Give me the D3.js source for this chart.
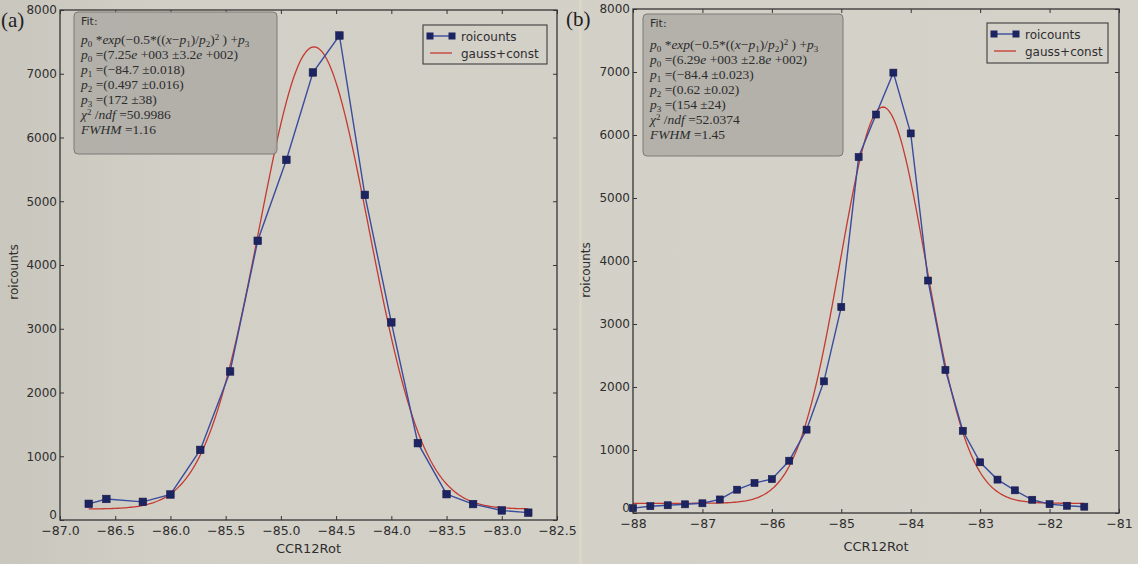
<!DOCTYPE html>
<html>
<head>
<meta charset="utf-8">
<script src="https://cdn.jsdelivr.net/npm/d3@7"></script>
<style>
  html, body { margin: 0; padding: 0; background: #d2cfc7; }
  svg { display: block; }
</style>
</head>
<body>
<svg id="fig" width="1138" height="564"></svg>
<script>
// ---- Panel (a): measured counts per CCR12Rot bin ----
const xA = [-86.74, -86.58, -86.25, -86.0, -85.73, -85.46, -85.21, -84.95, -84.71,
            -84.47, -84.24, -84.0, -83.76, -83.5, -83.26, -83.0, -82.76];
const countsA = [254, 330, 285, 400, 1100, 2330, 4380, 5650, 7020,
                 7600, 5100, 3100, 1205, 405, 250, 150, 115];
// gauss+const fit parameters p0..p3
const fitParamsA = [7250, -84.7, 0.497, 172];
const xTicksA = [-87.0, -86.5, -86.0, -85.5, -85.0, -84.5, -84.0, -83.5, -83.0, -82.5];

// ---- Panel (b) ----
const xB = [-88.0, -87.75, -87.5, -87.25, -87.0, -86.75, -86.5, -86.25, -86.0,
            -85.75, -85.5, -85.25, -85.0, -84.75, -84.5, -84.25, -84.0, -83.75,
            -83.5, -83.25, -83.0, -82.75, -82.5, -82.25, -82.0, -81.75, -81.5];
const countsB = [77, 108, 123, 138, 154, 215, 370, 477, 538,
                 830, 1323, 2090, 3270, 5650, 6325, 6990, 6025, 3690,
                 2270, 1305, 805, 530, 360, 210, 140, 115, 100];
const fitParamsB = [6290, -84.4, 0.62, 154];
const xTicksB = [-88, -87, -86, -85, -84, -83, -82, -81];

const yTicks = [0, 1000, 2000, 3000, 4000, 5000, 6000, 7000, 8000];

// Fit summary text: [text, "" | "sub" | "sup"] runs per line
const fitLinesA = [
  [["p", ""], ["0", "sub"], [" *exp(−0.5*((x−p", ""], ["1", "sub"], [")/p", ""], ["2", "sub"], [")", ""], ["2", "sup"], [" ) +p", ""], ["3", "sub"]],
  [["p", ""], ["0", "sub"], [" =(7.25e +003 ±3.2e +002)", ""]],
  [["p", ""], ["1", "sub"], [" =(−84.7 ±0.018)", ""]],
  [["p", ""], ["2", "sub"], [" =(0.497 ±0.016)", ""]],
  [["p", ""], ["3", "sub"], [" =(172 ±38)", ""]],
  [["χ", ""], ["2", "sup"], [" /ndf =50.9986", ""]],
  [["FWHM =1.16", ""]]
];
const fitLinesB = [
  [["p", ""], ["0", "sub"], [" *exp(−0.5*((x−p", ""], ["1", "sub"], [")/p", ""], ["2", "sub"], [")", ""], ["2", "sup"], [" ) +p", ""], ["3", "sub"]],
  [["p", ""], ["0", "sub"], [" =(6.29e +003 ±2.8e +002)", ""]],
  [["p", ""], ["1", "sub"], [" =(−84.4 ±0.023)", ""]],
  [["p", ""], ["2", "sub"], [" =(0.62 ±0.02)", ""]],
  [["p", ""], ["3", "sub"], [" =(154 ±24)", ""]],
  [["χ", ""], ["2", "sup"], [" /ndf =52.0374", ""]],
  [["FWHM =1.45", ""]]
];
const legendLabels = ["roicounts", "gauss+const"];
const axisTitleX = "CCR12Rot";
const axisTitleY = "roicounts";

// ---- styling ----
const C = {
  ink: "#2e2e2e",
  frame: "#353535",
  dataLine: "#3a4c9c",
  marker: "#1d2462",
  fit: "#c43a30",
  boxFill: "#b0aea7",
  boxStroke: "#7d7b75"
};
const SANS = "'DejaVu Sans', sans-serif";
const SERIF = "'Liberation Serif', 'Times New Roman', serif";

const svg = d3.select("#fig");

// paper background with a slight shading towards the left edge
const defs = svg.append("defs");
const grad = defs.append("linearGradient").attr("id", "paper").attr("x1", 0).attr("x2", 1).attr("y1", 0).attr("y2", 0);
grad.append("stop").attr("offset", 0).attr("stop-color", "#c9c6be");
grad.append("stop").attr("offset", 0.15).attr("stop-color", "#d2cfc7");
grad.append("stop").attr("offset", 1).attr("stop-color", "#d5d2ca");
svg.append("rect").attr("width", 1138).attr("height", 564).attr("fill", "url(#paper)");
// page fold between the two panels
svg.append("rect").attr("x", 579).attr("y", 0).attr("width", 3).attr("height", 564)
  .attr("fill", "#e0dcc4").attr("opacity", 0.55);

function gaussConst(p, v) {
  return p[0] * Math.exp(-0.5 * Math.pow((v - p[1]) / p[2], 2)) + p[3];
}

function writeMath(textSel, runs) {
  let shift = 0;
  runs.forEach(([str, kind]) => {
    const target = kind === "sub" ? 2.5 : kind === "sup" ? -4 : 0;
    const size = kind ? "9px" : null;
    // letters italic, digits and operators upright
    const parts = str.match(/[A-Za-zχ]+|[^A-Za-zχ]+/g) || [];
    parts.forEach((part, i) => {
      const ts = textSel.append("tspan").text(part);
      if (/[A-Za-zχ]/.test(part)) ts.attr("font-style", "italic");
      if (size) ts.attr("font-size", size);
      if (i === 0 && target !== shift) { ts.attr("dy", target - shift); shift = target; }
    });
  });
}

function drawPanel(o) {
  const g = svg.append("g");
  const x = d3.scaleLinear().domain(o.xDomain).range([o.left, o.right]);
  const y = d3.scaleLinear().domain([0, 8000]).range([o.bottom, o.top]);

  const styleAxis = size => sel => {
    sel.select(".domain").remove();
    sel.selectAll(".tick line").attr("stroke", C.frame).attr("stroke-width", 1);
    sel.selectAll("text").attr("fill", C.ink).attr("font-family", SANS).attr("font-size", size);
  };

  g.append("g").attr("transform", `translate(0,${o.bottom})`)
    .call(d3.axisBottom(x).tickValues(o.xTicks).tickFormat(o.xFmt)
      .tickSizeInner(-4).tickSizeOuter(0).tickPadding(6))
    .call(styleAxis(12.5));
  g.append("g").attr("transform", `translate(0,${o.top})`)
    .call(d3.axisTop(x).tickValues(o.xTicks).tickFormat("")
      .tickSizeInner(-4).tickSizeOuter(0))
    .call(styleAxis(12));
  const yl = g.append("g").attr("transform", `translate(${o.left},0)`)
    .call(d3.axisLeft(y).tickValues(yTicks).tickFormat(d3.format("d"))
      .tickSizeInner(-4).tickSizeOuter(0).tickPadding(3))
    .call(styleAxis(12));
  // the zero label sits just above the corner
  yl.selectAll(".tick").filter(d => d === 0).select("text").attr("y", -5);
  g.append("g").attr("transform", `translate(${o.right},0)`)
    .call(d3.axisRight(y).tickValues(yTicks).tickFormat("")
      .tickSizeInner(-4).tickSizeOuter(0))
    .call(styleAxis(12));

  // fitted model, evaluated from the printed parameters
  const fx = d3.range(0, 241).map(i => o.fitRange[0] + (o.fitRange[1] - o.fitRange[0]) * i / 240);
  g.append("path")
    .datum(fx)
    .attr("fill", "none").attr("stroke", C.fit).attr("stroke-width", 1.3)
    .attr("d", d3.line().x(d => x(d)).y(d => y(gaussConst(o.params, d))));

  // measured counts
  const pts = o.xs.map((v, i) => [v, o.counts[i]]);
  g.append("path")
    .datum(pts)
    .attr("fill", "none").attr("stroke", C.dataLine).attr("stroke-width", 1.4)
    .attr("d", d3.line().x(d => x(d[0])).y(d => y(d[1])));
  const ms = o.markerSize;
  g.selectAll("rect.pt").data(pts).join("rect").attr("class", "pt")
    .attr("x", d => x(d[0]) - ms / 2).attr("y", d => y(d[1]) - ms / 2)
    .attr("width", ms).attr("height", ms)
    .attr("fill", C.marker).attr("stroke", "#16194a").attr("stroke-width", 0.6);

  // frame
  g.append("rect").attr("x", o.left).attr("y", o.top)
    .attr("width", o.right - o.left).attr("height", o.bottom - o.top)
    .attr("fill", "none").attr("stroke", C.frame).attr("stroke-width", 1.3);

  // axis titles
  g.append("text").attr("x", (o.left + o.right) / 2).attr("y", o.xTitleY)
    .attr("text-anchor", "middle").attr("font-family", SANS).attr("font-size", 13)
    .attr("fill", C.ink).text(axisTitleX);
  g.append("text")
    .attr("transform", `translate(${o.yTitleX},${o.yTitleMid}) rotate(-90)`)
    .attr("text-anchor", "middle").attr("font-family", SANS).attr("font-size", 12)
    .attr("fill", C.ink).text(axisTitleY);

  // fit summary box
  const b = o.box;
  g.append("rect").attr("x", b.x).attr("y", b.y).attr("width", b.w).attr("height", b.h)
    .attr("rx", 4).attr("fill", C.boxFill).attr("fill-opacity", 0.92)
    .attr("stroke", C.boxStroke).attr("stroke-width", 1);
  g.append("text").attr("x", b.x + 7).attr("y", b.fitY)
    .attr("font-family", SANS).attr("font-size", 11).attr("fill", C.ink).text("Fit:");
  o.lines.forEach((runs, i) => {
    const t = g.append("text").attr("x", b.x + 7).attr("y", b.lineY0 + 15 * i)
      .attr("font-family", SERIF).attr("font-size", 13.5).attr("fill", "#2c2c2c");
    writeMath(t, runs);
  });

  // legend
  const L = o.legend;
  g.append("rect").attr("x", L.x).attr("y", L.y).attr("width", L.w).attr("height", L.h)
    .attr("fill", "none").attr("stroke", "#3d3d3d").attr("stroke-width", 1.1);
  const r0 = L.y + 11, r1 = L.y + 28;
  g.append("line").attr("x1", L.x + 7).attr("x2", L.x + 29).attr("y1", r0).attr("y2", r0)
    .attr("stroke", C.dataLine).attr("stroke-width", 1.4);
  [L.x + 7, L.x + 29].forEach(px => {
    g.append("rect").attr("x", px - 3.5).attr("y", r0 - 3.5).attr("width", 7).attr("height", 7)
      .attr("fill", C.marker);
  });
  g.append("line").attr("x1", L.x + 7).attr("x2", L.x + 29).attr("y1", r1).attr("y2", r1)
    .attr("stroke", C.fit).attr("stroke-width", 1.3);
  legendLabels.forEach((lab, i) => {
    g.append("text").attr("x", L.x + 38).attr("y", (i ? r1 : r0) + 4.5)
      .attr("font-family", SANS).attr("font-size", 12).attr("fill", C.ink).text(lab);
  });

  // panel tag
  g.append("text").attr("x", o.tag.x).attr("y", o.tag.y)
    .attr("font-family", SERIF).attr("font-size", 21).attr("fill", "#1e1e1e").text(o.tag.text);
}

drawPanel({
  xs: xA, counts: countsA, params: fitParamsA, lines: fitLinesA,
  xDomain: [-87, -82.5], xTicks: xTicksA, xFmt: d3.format(".1f"),
  fitRange: [xA[0], xA[xA.length - 1]],
  left: 60, right: 557, top: 10, bottom: 520,
  markerSize: 7.5,
  xTitleY: 553, yTitleX: 18, yTitleMid: 272,
  box: { x: 74, y: 12, w: 203, h: 142, fitY: 25, lineY0: 44 },
  legend: { x: 423, y: 25, w: 124, h: 39 },
  tag: { x: 1, y: 27, text: "(a)" }
});

drawPanel({
  xs: xB, counts: countsB, params: fitParamsB, lines: fitLinesB,
  xDomain: [-88, -81], xTicks: xTicksB, xFmt: d3.format("d"),
  fitRange: [xB[0], xB[xB.length - 1]],
  left: 633, right: 1119, top: 9, bottom: 513,
  markerSize: 7,
  xTitleY: 551, yTitleX: 590, yTitleMid: 270,
  box: { x: 643, y: 14, w: 200, h: 142, fitY: 27, lineY0: 49 },
  legend: { x: 987, y: 23, w: 121, h: 40 },
  tag: { x: 566, y: 26, text: "(b)" }
});
</script>
</body>
</html>
